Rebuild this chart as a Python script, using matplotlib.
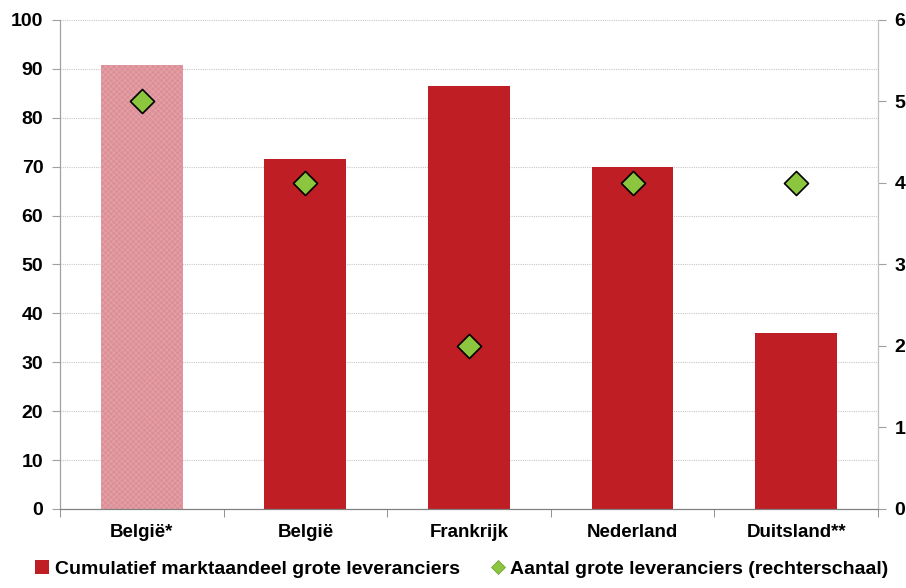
import matplotlib.pyplot as plt
from matplotlib.lines import Line2D
from matplotlib.patches import Patch

categories = ["België*", "België", "Frankrijk", "Nederland", "Duitsland**"]
market_share = [90.7, 71.5, 86.5, 70.0, 36.0]
n_suppliers = [5, 4, 2, 4, 4]

plt.rcParams["font.family"] = ["Liberation Sans Narrow", "Liberation Sans", "DejaVu Sans"]
plt.rcParams["font.weight"] = "bold"
plt.rcParams["hatch.linewidth"] = 0.6

red = "#BE1E24"
pink = "#DD8E96"
green = "#8CC63F"

fig = plt.figure(figsize=(9.06, 5.88), dpi=100)
ax = fig.add_axes([0.0662, 0.1344, 0.9028, 0.8316])
ax2 = ax.twinx()

x = list(range(len(categories)))
bars = ax.bar(x, market_share, width=0.5, color=red, zorder=2)
bars[0].set_facecolor(pink)
bars[0].set_hatch("xxxxxx")
bars[0].set_edgecolor("#E4A2A9")
bars[0].set_linewidth(0)

ax2.scatter(x, n_suppliers, marker="D", s=150, color=green,
            edgecolor="black", linewidth=1.2, zorder=3)

ax.set_xlim(-0.5, len(categories) - 0.5)
ax.set_ylim(0, 100)
ax2.set_ylim(0, 6)
ax.set_yticks(range(0, 101, 10))
ax2.set_yticks(range(0, 7))

ax.grid(axis="y", color="#C8C8C8", linestyle=(0, (1, 1)), linewidth=0.8, zorder=0)
ax.set_axisbelow(True)

for a in (ax, ax2):
    a.spines["top"].set_visible(False)
    a.spines["left"].set_color("#A0A0A0")
    a.spines["right"].set_color("#C0C0C0")
    a.spines["bottom"].set_color("#808080")
    a.tick_params(axis="y", length=6, width=0.8, color="#A0A0A0",
                  labelsize=14, pad=6)

ax.set_xticks(x)
ax.set_xticklabels(categories, fontsize=13.5, fontweight="bold")
ax.set_xticks([i + 0.5 for i in range(-1, len(categories))], minor=True)
ax.tick_params(axis="x", which="major", length=0, pad=11)
ax.tick_params(axis="x", which="minor", length=6, color="#808080", direction="out")
for lab in ax.get_yticklabels() + ax2.get_yticklabels():
    lab.set_fontweight("bold")

handles = [
    Patch(facecolor=red, edgecolor="none"),
    Line2D([0], [0], marker="D", color="none", markerfacecolor=green,
           markeredgecolor="#6A9A30", markeredgewidth=0.5, markersize=7),
]
labels = ["Cumulatief marktaandeel grote leveranciers",
          "Aantal grote leveranciers (rechterschaal)"]
fig.legend(handles, labels, loc="lower center", bbox_to_anchor=(0.51, -0.012),
           ncol=2, frameon=False, handlelength=0.7,
           handletextpad=0.3, columnspacing=1.6, prop={"weight": "bold", "size": 14})

fig.savefig("out.png", dpi=100)
